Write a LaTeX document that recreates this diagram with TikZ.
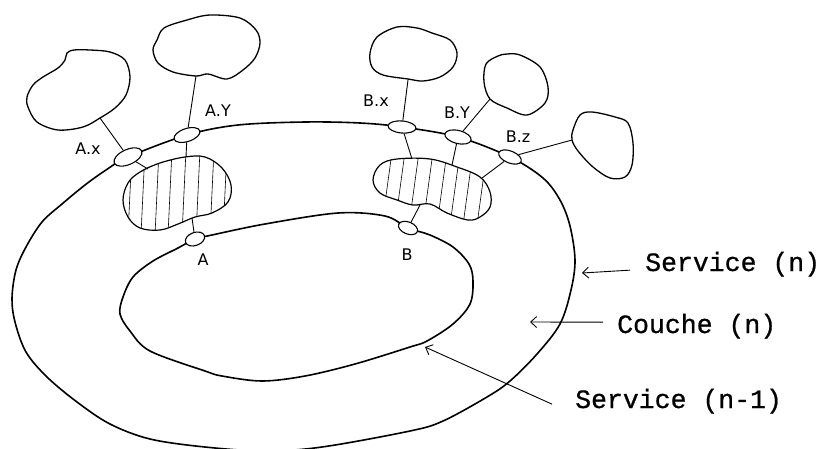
\documentclass[tikz,border=0pt]{standalone}
\usepackage{fontspec}
\setmainfont{DejaVu Sans}
\newfontfamily\typew[FakeBold=0.7]{Liberation Mono}
\usetikzlibrary{shapes.geometric,arrows.meta}
\begin{document}
\begin{tikzpicture}[x=1pt,y=-1pt,
  ring/.style={line width=1.6pt,line join=round},
  cloudline/.style={line width=1.3pt,line join=round},
  blobline/.style={line width=1.2pt,line join=round},
  sap/.style={draw,ellipse,fill=white,line width=1.1pt,inner sep=0pt},
  link/.style={line width=0.9pt},
  hatch/.style={line width=0.6pt},
  lbl/.style={font=\fontsize{16}{16}\selectfont,inner sep=0pt},
  tw/.style={font=\typew\fontsize{26.5}{26.5}\selectfont,inner sep=0pt,anchor=base west},
  arr/.style={line width=0.9pt,-{Straight Barb[length=6pt,width=11pt]}}]
\useasboundingbox (0,0) rectangle (819,448);
\clip (0,0) rectangle (819,448);

% clouds (user groups)
\draw[cloudline] plot[smooth cycle,tension=0.55] coordinates {(67,53) (74,50) (90,50) (110,52) (125,60) (130,77) (126,95) (115,108) (100,118) (83,127) (58,130) (37,122) (28,107) (27,97) (33,85) (43,77) (58,68) (65,60)};
\draw[cloudline] plot[smooth cycle,tension=0.55] coordinates {(157,40) (164,28) (187,20) (210,15) (240,18) (256,30) (260,43) (255,58) (243,70) (227,79) (208,74) (196,76) (173,72) (158,63) (153,50)};
\draw[cloudline] plot[smooth cycle,tension=0.55] coordinates {(370,53) (377,37) (397,27) (417,28) (432,33) (450,40) (457,53) (453,67) (440,77) (423,81) (408,79) (383,75) (372,67)};
\draw[cloudline] plot[smooth cycle,tension=0.55] coordinates {(484,82) (486,64) (498,56) (507,54) (520,55) (540,67) (548,87) (545,103) (527,115) (507,108) (490,99)};
\draw[cloudline] plot[smooth cycle,tension=0.55] coordinates {(573,130) (580,115) (592,112) (615,117) (628,123) (633,143) (632,165) (625,177) (610,178) (593,167) (578,151) (572,140)};

\coordinate (cAx) at (100,118);
\coordinate (cAy) at (196,76);
\coordinate (cBx) at (408,80);
\coordinate (cBy) at (490,99);
\coordinate (cBz) at (572,140);

% hatched entities
\begin{scope}
  \clip plot[smooth cycle,tension=0.6] coordinates {(140,172) (160,163) (185,157) (205,157) (222,168) (231,185) (228,202) (212,213) (195,217) (178,224) (160,230) (140,228) (128,217) (123,200) (128,183)};
  \foreach \h in {130,143,157,170,184,198,212,225} \draw[hatch] (\h+2,150) -- (\h-2,235);
\end{scope}
\draw[blobline] plot[smooth cycle,tension=0.6] coordinates {(140,172) (160,163) (185,157) (205,157) (222,168) (231,185) (228,202) (212,213) (195,217) (178,224) (160,230) (140,228) (128,217) (123,200) (128,183)};
\begin{scope}
  \clip plot[smooth cycle,tension=0.6] coordinates {(373,180) (380,165) (397,159) (430,159) (457,167) (480,177) (490,192) (490,207) (480,217) (468,220) (447,213) (430,204) (413,205) (397,200) (380,193)};
  \foreach \h in {387,400,414,428,442,455,468,482} \draw[hatch] (\h+5,152) -- (\h-5,225);
\end{scope}
\draw[blobline] plot[smooth cycle,tension=0.6] coordinates {(373,180) (380,165) (397,159) (430,159) (457,167) (480,177) (490,192) (490,207) (480,217) (468,220) (447,213) (430,204) (413,205) (397,200) (380,193)};

\coordinate (bAx) at (148,169);
\coordinate (bAy) at (186,157);
\coordinate (bAa) at (192,218);
\coordinate (bBx) at (412,159);
\coordinate (bBy) at (452,165);
\coordinate (bBz) at (482,178);
\coordinate (bBb) at (420,205);

% outer ring : service (n)
\draw[ring] plot[smooth cycle,tension=0.55] coordinates {(128,157) (187,135) (238,125) (305,122) (360,123) (402,127) (458,137) (510,157) (543,178) (560,200) (570,226) (575,260) (571,290) (560,324) (537,354) (510,381) (487,397) (443,421) (410,431) (322,447) (265,451) (205,447) (150,439) (110,424) (77,402) (47,377) (26,352) (15,322) (12,298) (16,270) (26,247) (42,222) (62,204) (85,185) (106,170)};
% inner ring : service (n-1)
\draw[ring] plot[smooth cycle,tension=0.55] coordinates {(195,239) (212,235) (265,224) (338,213) (385,216) (408,228) (430,235) (453,247) (469,264) (473,281) (470,304) (453,324) (427,341) (410,347) (355,364) (305,376) (262,381) (222,376) (205,371) (150,351) (130,331) (120,314) (123,297) (133,277) (153,261) (178,248)};

% access points
\node[sap,minimum width=30pt,minimum height=15pt,rotate=24] (Ax) at (128,157) {};
\node[sap,minimum width=27pt,minimum height=13pt,rotate=18] (Ay) at (187,135) {};
\node[sap,minimum width=28pt,minimum height=12pt,rotate=-5] (Bx) at (402,127) {};
\node[sap,minimum width=27pt,minimum height=13pt,rotate=-14] (By) at (458,137) {};
\node[sap,minimum width=24pt,minimum height=12pt,rotate=-22] (Bz) at (510,157) {};
\node[sap,minimum width=20pt,minimum height=13pt,rotate=20] (A) at (195,239) {};
\node[sap,minimum width=20pt,minimum height=12pt,rotate=-22] (B) at (408,228) {};

% connectors
\draw[link] (cAx) -- (Ax);
\draw[link] (Ax) -- (bAx);
\draw[link] (cAy) -- (Ay);
\draw[link] (Ay) -- (bAy);
\draw[link] (bAa) -- (A);
\draw[link] (cBx) -- (Bx);
\draw[link] (Bx) -- (bBx);
\draw[link] (cBy) -- (By);
\draw[link] (By) -- (bBy);
\draw[link] (cBz) -- (Bz);
\draw[link] (Bz) -- (bBz);
\draw[link] (bBb) -- (B);

% labels
\node[lbl] (lAx) at (88,149) {A.x};
\node[lbl] (lAy) at (218,111) {A.Y};
\node[lbl] (lBx) at (376,101) {B.x};
\node[lbl] (lBy) at (457,113) {B.Y};
\node[lbl] (lBz) at (518,137) {B.z};
\node[lbl] (lA) at (203,260) {A};
\node[lbl] (lB) at (407,255) {B};

% right-hand annotations
\node[tw] (sn) at (645,271) {Service (n)};
\node[tw] (cn) at (617,333) {Couche (n)};
\node[tw] (sn1) at (575,408) {Service (n-1)};
\coordinate (tSn) at (582,273);
\coordinate (tCn) at (530,322);
\coordinate (tSn1) at (425,347);
\draw[arr] ([xshift=-15pt,yshift=-6pt]sn.west) -- (tSn);
\draw[arr] ([xshift=-14pt,yshift=4pt]cn.west) -- (tCn);
\draw[arr] ([xshift=-23pt,yshift=-3pt]sn1.west) -- (tSn1);
\end{tikzpicture}
\end{document}
